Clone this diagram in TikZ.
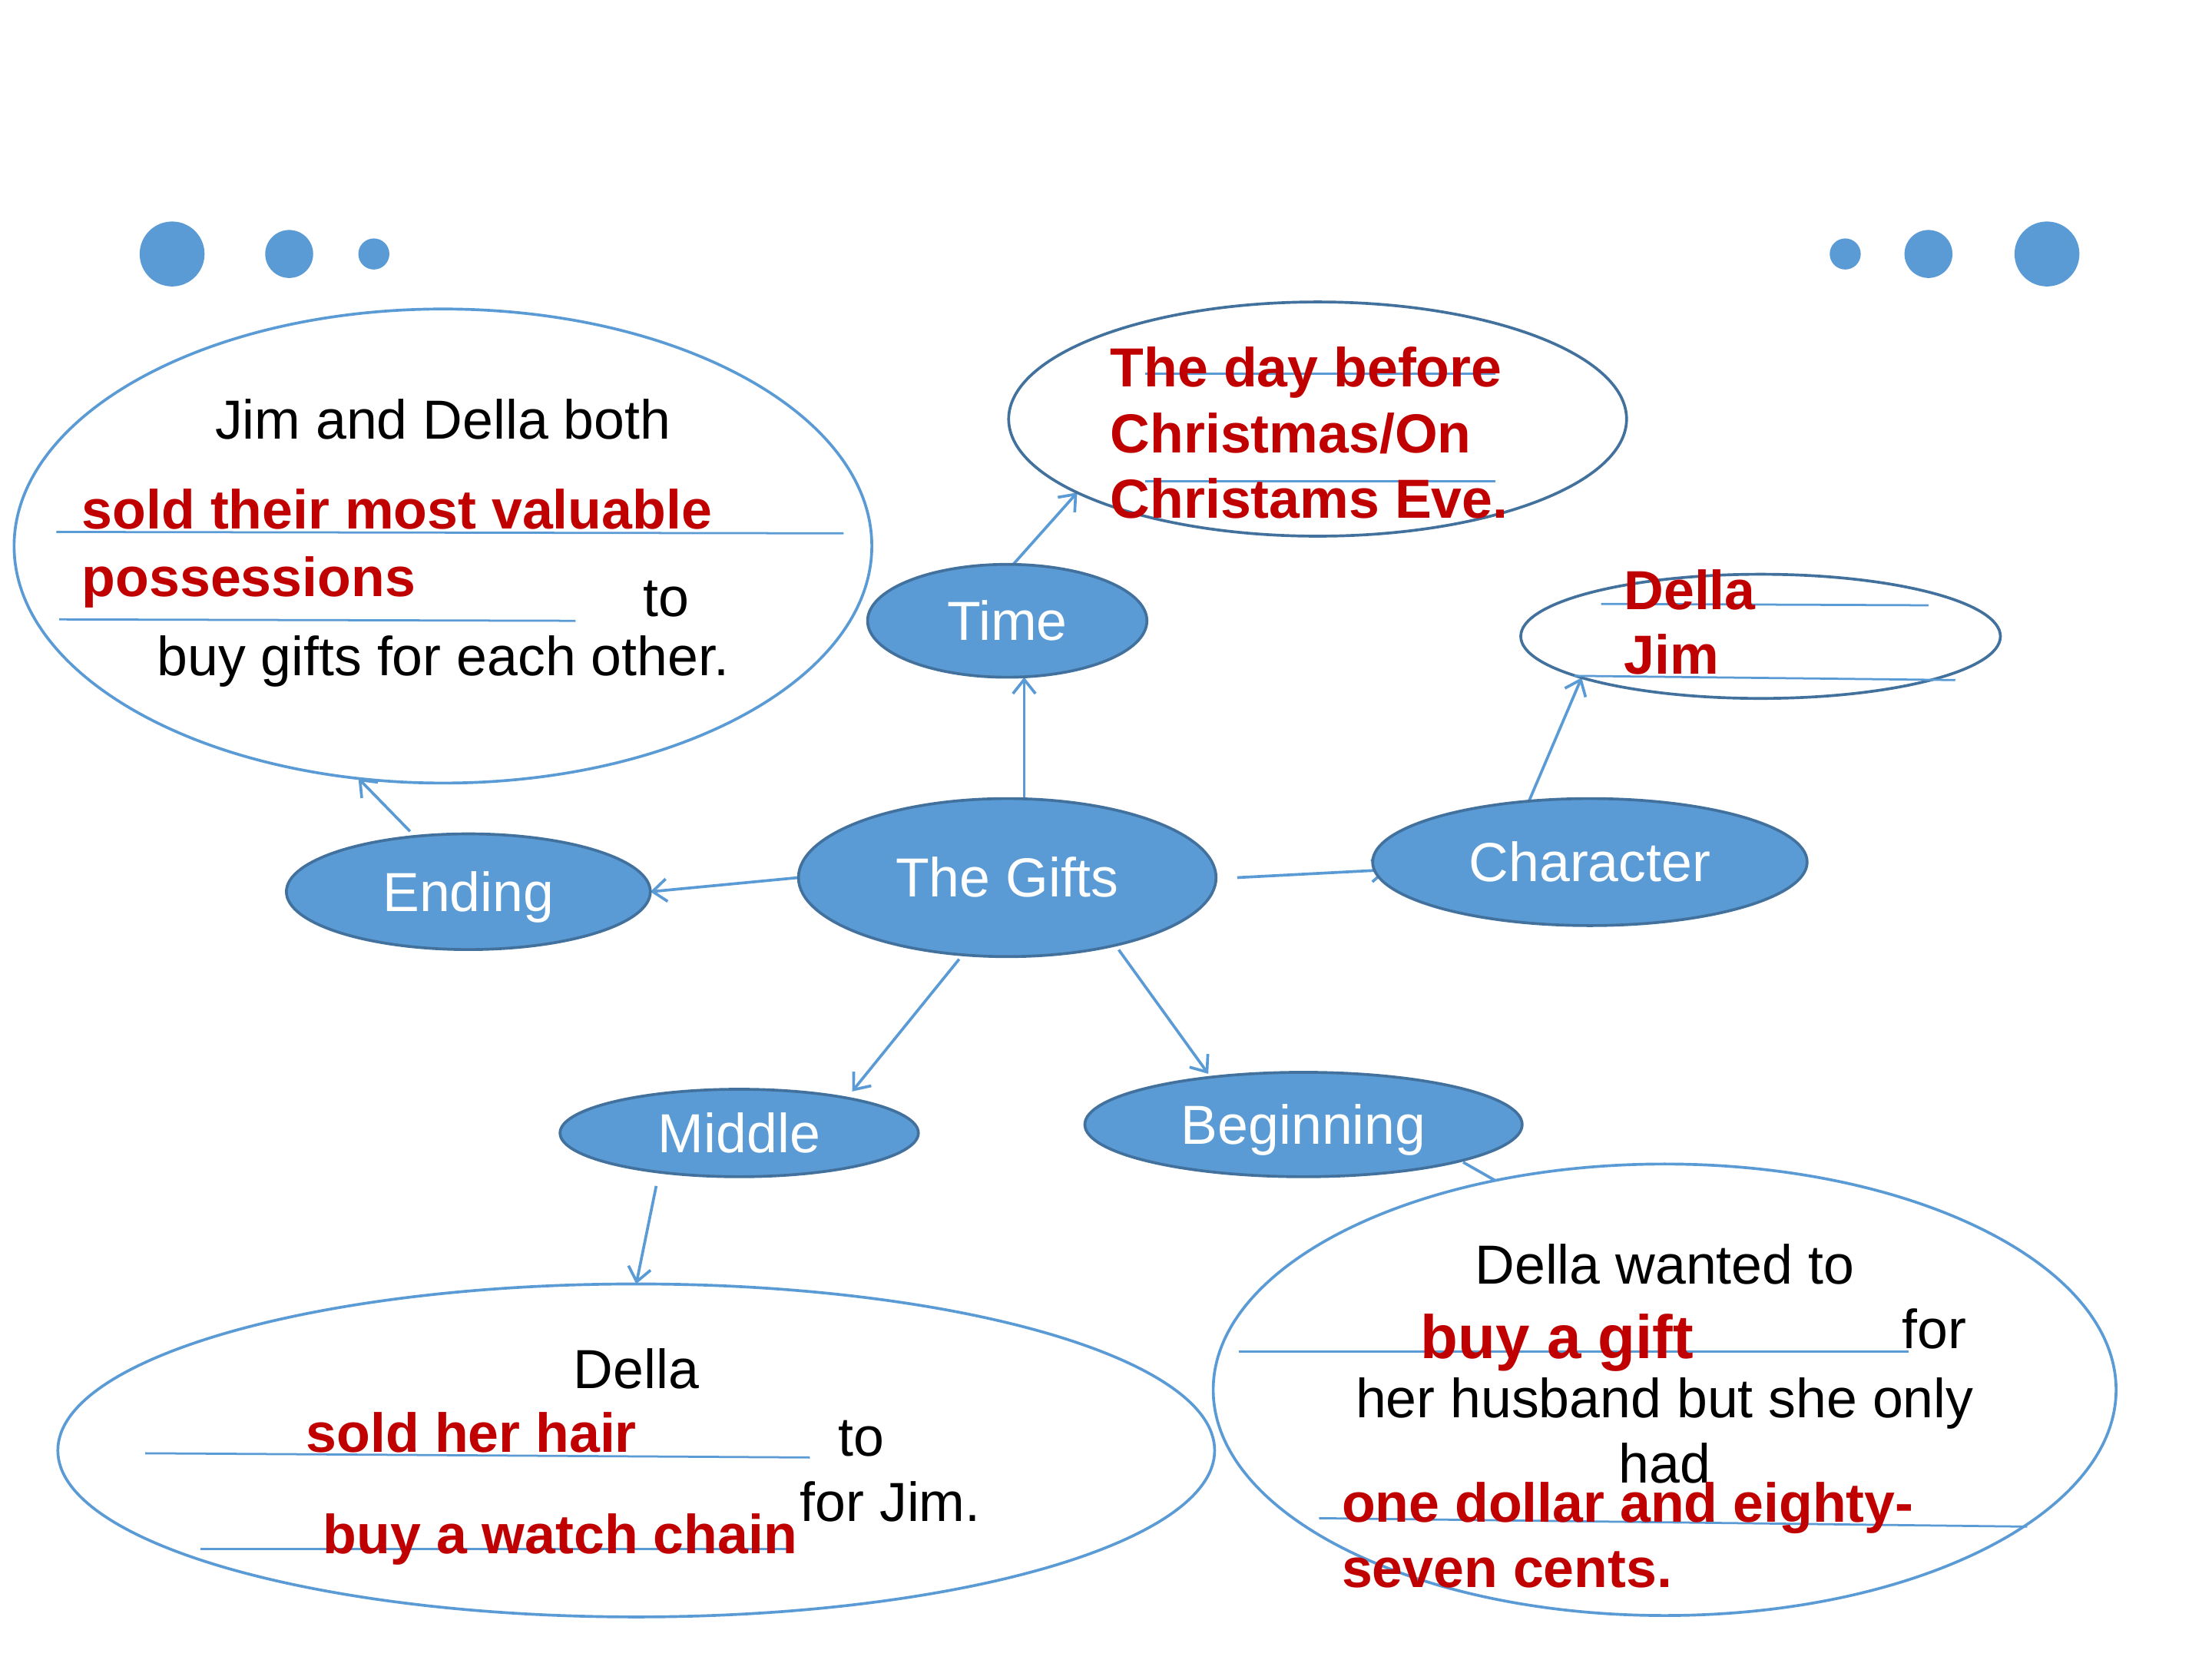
\documentclass[tikz,border=0pt]{standalone}
\usepackage{fontspec}
\setmainfont{Liberation Sans}
\usetikzlibrary{shapes.geometric,arrows.meta,backgrounds}
\definecolor{bfill}{HTML}{5B9BD5}
\definecolor{bdark}{HTML}{41719C}
\definecolor{ansred}{HTML}{C00000}
\begin{document}
\begin{tikzpicture}[x=1pt,y=-1pt,
  topic/.style={ellipse, fill=bfill, draw=bdark, line width=2pt, inner sep=0pt, outer sep=0pt,
    text=white, font=\fontsize{39}{45}\selectfont, text height=27.5pt, text depth=0pt},
  bubble/.style={ellipse, draw=bfill, line width=2pt, inner sep=0pt, outer sep=0pt},
  dbubble/.style={ellipse, draw=bdark, line width=2pt, inner sep=0pt, outer sep=0pt},
  conn/.style={draw=bfill, line width=2pt, -{Straight Barb[length=10pt,width=16pt]}},
  plainconn/.style={draw=bfill, line width=2pt},
  body/.style={inner sep=0pt, font=\fontsize{39}{45}\selectfont, text=black},
  ans/.style={inner sep=0pt, font=\fontsize{39}{45}\selectfont\bfseries, text=ansred},
  blank/.style={draw=bfill, line width=1.5pt},
  dot/.style={circle, fill=bfill, inner sep=0pt, outer sep=0pt}
]
\useasboundingbox (0,0) rectangle (1568,1176);

% decorative dots
\node[dot, minimum size=46pt] (d1) at (122,180) {};
\node[dot, minimum size=34pt] (d2) at (205,180) {};
\node[dot, minimum size=22pt] (d3) at (265,180) {};
\node[dot, minimum size=22pt] (d4) at (1308,180) {};
\node[dot, minimum size=34pt] (d5) at (1367,180) {};
\node[dot, minimum size=46pt] (d6) at (1451,180) {};

% topic ellipses
\node[topic, minimum width=296pt, minimum height=112pt] (gifts) at (714,622) {The Gifts};
\node[topic, minimum width=198pt, minimum height=80pt] (time) at (714,440) {Time};
\node[topic, minimum width=258pt, minimum height=82pt] (ending) at (332,632) {Ending};
\node[topic, minimum width=308pt, minimum height=90pt] (char) at (1127,611) {Character};
\node[topic, minimum width=254pt, minimum height=62pt] (middle) at (524,803) {Middle};
\node[topic, minimum width=310pt, minimum height=74pt] (begin) at (924,797) {Beginning};

% answer bubbles
\node[bubble, minimum width=608pt, minimum height=336pt] (tlbub) at (314,387) {};
\node[dbubble, minimum width=438pt, minimum height=166pt] (timebub) at (934,297) {};
\node[dbubble, minimum width=340pt, minimum height=88pt] (charbub) at (1248,451) {};
\node[bubble, minimum width=820pt, minimum height=236pt] (blbub) at (451,1028) {};
\node[bubble, minimum width=640pt, minimum height=320pt] (brbub) at (1180,985) {};

% connectors
\begin{scope}[on background layer]
\draw[conn] ([xshift=12pt]gifts.north) -- ([xshift=12pt]time.south);
\draw[conn] (time.84) -- (timebub.197);
\draw[conn] (gifts.west) -- (ending.east);
\draw[conn, shorten <=5pt] (ending.134) -- (tlbub.250);
\draw[conn, shorten >=-11pt] ([xshift=15pt]gifts.east) -- ([yshift=-6pt]char.west);
\draw[conn] (char.135) -- (charbub.193);
\draw[conn, shorten <=4pt, shorten >=6pt] (gifts.240) -- (middle.18);
\draw[conn, shorten <=4pt, shorten >=3pt] (gifts.328) -- (begin.153);
\draw[conn, shorten <=10pt] (middle.206) -- (blbub.north);
\draw[plainconn, shorten <=2pt] (begin.347) -- (brbub.129);
\end{scope}

% blanks
\draw[blank] (40,377) -- (598,378);
\draw[blank] (42,439) -- (408,440);
\draw[blank] (812,265) -- (1060,265);
\draw[blank] (812,341) -- (1060,341);
\draw[blank] (1135,428) -- (1367,429);
\draw[blank] (1116,479) -- (1386,482);
\draw[blank] (103,1030) -- (574,1033);
\draw[blank] (142,1098) -- (561,1098);
\draw[blank] (878,958) -- (1353,958);
\draw[blank] (935,1076) -- (1437,1082);

% top-left bubble text
\node[body, anchor=base] (tl1) at (314,311) {Jim and Della both};
\node[ans, anchor=base west] (tl2) at (58,375) {sold their most valuable};
\node[ans, anchor=base west] (tl3) at (58,423) {possessions};
\node[body, anchor=base west] (tl4) at (456,437) {to};
\node[body, anchor=base] (tl5) at (314,479) {buy gifts for each other.};

% time bubble text
\node[ans, anchor=base west] (tm1) at (787,274) {The day before};
\node[ans, anchor=base west] (tm2) at (787,321) {Christmas/On};
\node[ans, anchor=base west] (tm3) at (787,367) {Christams Eve.};

% character bubble text
\node[ans, anchor=base west] (ch1) at (1151,432) {Della};
\node[ans, anchor=base west] (ch2) at (1151,478) {Jim};

% bottom-left bubble text
\node[body, anchor=base] (bl1) at (451,984) {Della};
\node[ans, anchor=base west] (bl2) at (217,1029) {sold her hair};
\node[body, anchor=base west] (bl3) at (594,1032) {to};
\node[body, anchor=base west] (bl4) at (567,1078) {for Jim.};
\node[ans, anchor=base west] (bl5) at (229,1101) {buy a watch chain};

% bottom-right bubble text
\node[body, anchor=base] (br1) at (1180,910) {Della wanted to};
\node[ans, anchor=base west, font=\fontsize{43.5}{50}\selectfont\bfseries] (br2) at (1007,963) {buy a gift};
\node[body, anchor=base west] (br3) at (1348,956) {for};
\node[body, anchor=base] (br4) at (1180,1005) {her husband but she only};
\node[body, anchor=base] (br5) at (1180,1051) {had};
\node[ans, anchor=base west] (br6) at (951,1079) {one dollar and eighty-};
\node[ans, anchor=base west] (br7) at (951,1125) {seven cents.};
\end{tikzpicture}
\end{document}
